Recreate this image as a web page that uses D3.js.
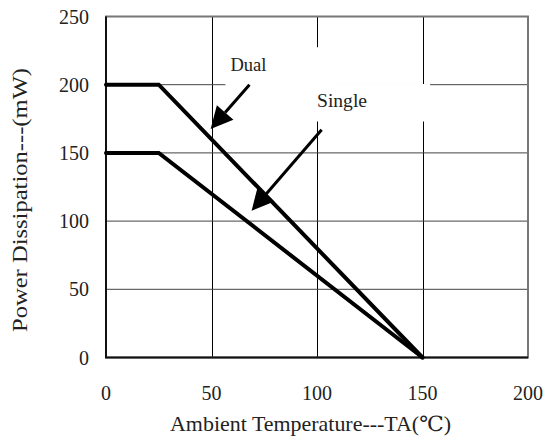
<!DOCTYPE html>
<html>
<head>
<meta charset="utf-8">
<script src="https://cdn.jsdelivr.net/npm/d3@7"></script>
<style>
  body { margin: 0; background: #fff; }
</style>
</head>
<body>
<svg id="chart" width="546" height="440" font-family="'Liberation Serif', 'Times New Roman', Tinos, 'DejaVu Serif', serif"></svg>
<script>
// derating curves
const temps = [0, 25, 150];
const dual = [200, 200, 0];
const single = [150, 150, 0];
const xTicks = [0, 50, 100, 150, 200];
const yTicks = [0, 50, 100, 150, 200, 250];

// annotations in data units: label, label pos, arrow tail, arrow tip, white box behind
const notes = [
  { text: "Dual", at: [59, 210], tail: [68, 200], tip: [49.6, 167.5], box: [56.6, 106, 191.5, 227.5], w: 36 },
  { text: "Single", at: [100, 183.5], tail: [102.2, 167], tip: [69, 107.5], box: [94, 153.6, 173, 200.5], w: 50 }
];

const svg = d3.select("#chart");
const x = d3.scaleLinear().domain([0, 200]).range([106, 528]);
const y = d3.scaleLinear().domain([0, 250]).range([357.5, 16.5]);

// grid
const grid = svg.append("g").attr("stroke", "#000").attr("stroke-width", 1);
grid.selectAll("line.v")
  .data(xTicks.slice(1, -1))
  .enter().append("line")
  .attr("x1", d => Math.round(x(d)) + 0.5).attr("x2", d => Math.round(x(d)) + 0.5)
  .attr("y1", y(250)).attr("y2", y(0));
grid.selectAll("line.h")
  .data(yTicks.slice(1, -1))
  .enter().append("line")
  .attr("x1", x(0)).attr("x2", x(200))
  .attr("y1", d => y(d)).attr("y2", d => y(d))
  .attr("stroke", "#444");

// white boxes behind labels
svg.append("g").selectAll("rect")
  .data(notes)
  .enter().append("rect")
  .attr("x", d => x(d.box[0]))
  .attr("width", d => x(d.box[1]) - x(d.box[0]))
  .attr("y", d => y(d.box[3]))
  .attr("height", d => y(d.box[2]) - y(d.box[3]))
  .attr("fill", "#fff");

// frame
svg.append("rect")
  .attr("x", x(0)).attr("y", y(250))
  .attr("width", x(200) - x(0)).attr("height", y(0) - y(250))
  .attr("fill", "none").attr("stroke", "#777").attr("stroke-width", 2);
svg.append("path")
  .attr("d", `M${x(0)},${y(250)}V${y(0)}H${x(200)}`)
  .attr("fill", "none").attr("stroke", "#111").attr("stroke-width", 2);

// curves
const line = d3.line().x((d, i) => x(temps[i])).y(d => y(d));
svg.selectAll("path.curve")
  .data([dual, single])
  .enter().append("path")
  .attr("class", "curve")
  .attr("d", line)
  .attr("fill", "none")
  .attr("stroke", "#000")
  .attr("stroke-width", 4)
  .attr("stroke-linecap", "round")
  .attr("stroke-linejoin", "miter");

// arrows and labels
notes.forEach(n => {
  const tx = x(n.tail[0]), ty = y(n.tail[1]);
  const px = x(n.tip[0]), py = y(n.tip[1]);
  const ang = Math.atan2(py - ty, px - tx);
  const len = 22, half = 11;
  const bx = px - len * Math.cos(ang), by = py - len * Math.sin(ang);
  const nx = -Math.sin(ang), ny = Math.cos(ang);
  svg.append("line")
    .attr("x1", tx).attr("y1", ty).attr("x2", bx).attr("y2", by)
    .attr("stroke", "#000").attr("stroke-width", 3);
  svg.append("path")
    .attr("d", `M${px},${py}L${bx + nx * half},${by + ny * half}L${bx - nx * half},${by - ny * half}Z`)
    .attr("fill", "#000");
  svg.append("text")
    .attr("x", x(n.at[0])).attr("y", y(n.at[1]))
    .attr("font-size", 19)
    .attr("textLength", n.w)
    .attr("lengthAdjust", "spacingAndGlyphs")
    .attr("fill", "#222")
    .text(n.text);
});

// tick labels
svg.append("g").selectAll("text")
  .data(xTicks)
  .enter().append("text")
  .attr("x", d => x(d)).attr("y", 400)
  .attr("text-anchor", "middle")
  .attr("font-size", 20)
  .attr("fill", "#222")
  .text(d => d);
svg.append("g").selectAll("text")
  .data(yTicks)
  .enter().append("text")
  .attr("x", 89).attr("y", d => y(d) + 7)
  .attr("text-anchor", "end")
  .attr("font-size", 20)
  .attr("fill", "#222")
  .text(d => d);

// axis titles
svg.append("text")
  .attr("x", 170).attr("y", 431)
  .attr("font-size", 21)
  .attr("textLength", 281)
  .attr("lengthAdjust", "spacingAndGlyphs")
  .attr("fill", "#222")
  .text("Ambient Temperature---TA(℃)");
svg.append("text")
  .attr("transform", "translate(27,332) rotate(-90)")
  .attr("font-size", 20)
  .attr("textLength", 264)
  .attr("lengthAdjust", "spacingAndGlyphs")
  .attr("fill", "#222")
  .text("Power Dissipation---(mW)");
</script>
</body>
</html>
